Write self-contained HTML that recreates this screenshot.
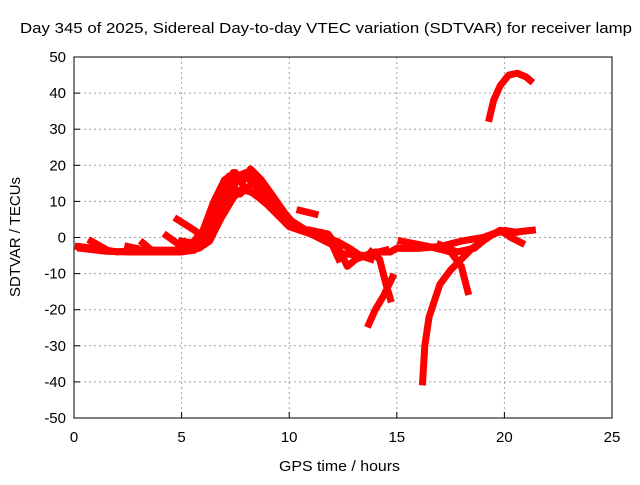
<!DOCTYPE html>
<html><head><meta charset="utf-8"><style>
body{margin:0;background:#fff}
svg text{font-family:"Liberation Sans",sans-serif;font-size:15px;fill:#000}
</style></head><body>
<svg width="640" height="480" viewBox="0 0 640 480" xmlns="http://www.w3.org/2000/svg">
<text x="20" y="33" textLength="612" lengthAdjust="spacingAndGlyphs">Day 345 of 2025, Sidereal Day-to-day VTEC variation (SDTVAR) for receiver lamp</text>
<g id="grid"></g>
<g id="axes"></g>
<g id="series"></g>
<rect x="74" y="57" width="538" height="361" fill="none" stroke="#000" stroke-width="1"/>
<text transform="translate(20,237) rotate(-90)" text-anchor="middle" textLength="120" lengthAdjust="spacingAndGlyphs">SDTVAR / TECUs</text>
<text x="279" y="471" textLength="121" lengthAdjust="spacingAndGlyphs">GPS time / hours</text>
</svg>
<script>
const xTicks=[0,5,10,15,20,25];
const yTicks=[-50,-40,-30,-20,-10,0,10,20,30,40,50];
const track1=[[0.2,-2.5],[1,-3],[2,-4],[3,-3.5],[4,-3.5],[5,-3.5],[5.8,-3],[6.3,-1],[6.8,5],[7.2,12],[7.6,16],[8,17],[8.5,14],[9,10],[9.5,6],[10,3],[11,1],[12,-2],[12.3,-6]];
const track2=[[0.3,-3],[1.5,-3.8],[2.5,-4],[4,-4],[5,-4],[5.6,-3.5],[6,0],[6.5,6],[7,13],[7.4,18],[7.8,15],[8.2,19],[8.7,16],[9.3,11],[10,5],[10.8,2],[11.5,0],[12.2,-1],[12.8,-3],[13.3,-5],[13.8,-6]];
const track3=[[5,-1],[5.5,-1.5],[6,2],[6.5,10],[7,16],[7.5,18],[8,13],[8.5,12],[9,9],[9.5,6],[10,4]];
const track4=[[5.5,-3],[6,-2],[6.4,3],[6.9,9],[7.3,15],[7.7,12],[8.3,15],[8.8,12],[9.4,8],[10,3.5]];
const track4b=[[5.8,-1],[6.2,4],[6.7,11],[7.2,17],[7.6,17],[8,18],[8.4,17],[9,13],[9.6,8],[10.2,4]];
const track4c=[[5.2,-2],[5.9,-2.5],[6.4,1],[6.9,6],[7.4,11],[7.9,14],[8.6,11],[9.2,8],[9.8,5]];
const spurs=[[[0.8,-1],[1.4,-3]],[[2.5,-2.5],[2.9,-3]],[[3.2,-1.5],[3.6,-3.5]],[[4.3,0.5],[5,-2.5]],[[4.8,5],[5.6,2],[6,0]],[[10.5,7.5],[11.2,6.5]]];
const track5=[[11,2],[11.8,1],[12.3,-3],[12.7,-8],[13.1,-6],[14,-4],[14.7,-4],[15,-3]];
const track6=[[12.5,-4.5],[13.5,-5],[14.5,-3.5]];
const track7=[[13.7,-24],[14,-20],[14.4,-16],[14.8,-11]];
const track8=[[13.8,-4],[14.2,-6],[14.5,-13],[14.7,-17]];
const track9=[[15.2,-3],[16,-3],[17,-2.5],[18,-1],[19,0],[19.7,1.5],[20.5,1.5],[21.3,2]];
const track10=[[15.2,-1],[16.5,-2.5],[17.5,-4],[18,-8],[18.3,-15]];
const track11=[[16.2,-40],[16.3,-30],[16.5,-22],[17,-13],[17.5,-9],[18,-6],[18.5,-3],[19,-1],[19.5,1],[20,2],[20.5,1.5]];
const track12=[[17,-2],[17.8,-4],[18.6,-3],[19.2,0],[19.8,2],[20.3,0],[20.8,-1.5]];
const track13=[[19.3,33],[19.5,38],[19.8,42],[20.2,45],[20.6,45.5],[21,44.5],[21.2,43.5]];
const tracks=[track1,track2,track3,track4,track4b,track4c,...spurs,track5,track6,track7,track8,track9,track10,track11,track12,track13];
const X0=74,X1=612,Y0=418,Y1=57;
const sx=v=>X0+(v-0)/(25-0)*(X1-X0);
const sy=v=>Y0-(v+50)/100*(Y0-Y1);
const NS="http://www.w3.org/2000/svg";
const grid=document.getElementById('grid'),axes=document.getElementById('axes'),series=document.getElementById('series');
function mk(t,a,p){const e=document.createElementNS(NS,t);for(const k in a)e.setAttribute(k,a[k]);p.appendChild(e);return e;}
xTicks.forEach(v=>{const x=sx(v);
 if(v>0&&v<25){const g=mk('line',{x1:x,x2:x,y1:Y1,y2:Y0,stroke:'#a0a0a0','stroke-dasharray':'2,3'},grid);
 
 }
 const t=mk('line',{x1:x,x2:x,y1:Y0,y2:Y0-6,stroke:'#000'},axes);
 
 
 const l=mk('text',{x:x,y:Y0+24,'text-anchor':'middle'},axes);l.textContent=v;
 
 });
yTicks.forEach(v=>{const y=sy(v);
 if(v>-50&&v<50){const g=mk('line',{x1:X0,x2:X1,y1:y,y2:y,stroke:'#a0a0a0','stroke-dasharray':'2,3'},grid);
 
 }
 const t=mk('line',{x1:X0,x2:X0+6,y1:y,y2:y,stroke:'#000'},axes);
 
 
 const l=mk('text',{x:X0-8,y:y+5,'text-anchor':'end'},axes);l.textContent=v;
 
 });
tracks.forEach(tr=>{const p=mk('polyline',{points:tr.map(d=>sx(d[0])+','+sy(d[1])).join(' '),fill:'none',stroke:'#ff0000','stroke-width':7,'stroke-linejoin':'round','stroke-linecap':'square'},series);
 
 });
</script>
</body></html>
